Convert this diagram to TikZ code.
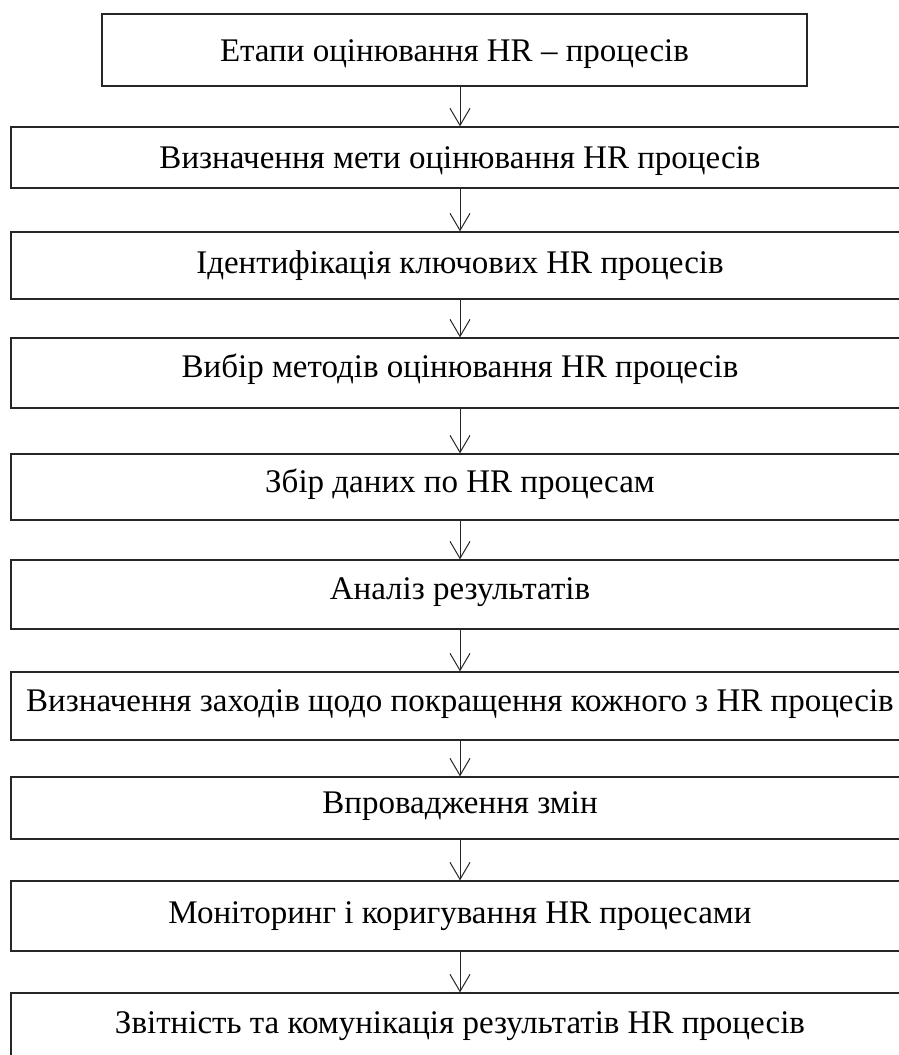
\documentclass[tikz,border=0pt]{standalone}
\usepackage{fontspec}
\setmainfont{Liberation Serif}
\usetikzlibrary{arrows.meta}
\tikzset{
  box/.style={draw=black!85, line width=1.3pt, rectangle, inner sep=0pt, fill=white},
  txt/.style={inner sep=0pt, anchor=base, font=\fontsize{33}{38}\selectfont},
  arr/.style={draw=black!85, line width=1pt, -{Straight Barb[length=17pt,width=20pt,line width=1pt]}}
}
\begin{document}
\begin{tikzpicture}[x=1pt,y=1pt]
\useasboundingbox (0,0) rectangle (899,-1055);
\clip (0,0) rectangle (899,-1055);
\fill[white] (0,0) rectangle (899,-1055);
% boxes
\node[box, minimum width=705pt, minimum height=72pt] (b1) at (454.5,-50) {};
\node[box, minimum width=898pt, minimum height=61pt] (b2) at (460,-157.5) {};
\node[box, minimum width=898pt, minimum height=67pt] (b3) at (460,-265.5) {};
\node[box, minimum width=898pt, minimum height=70pt] (b4) at (460,-373) {};
\node[box, minimum width=898pt, minimum height=66pt] (b5) at (460,-487) {};
\node[box, minimum width=898pt, minimum height=69pt] (b6) at (460,-594.5) {};
\node[box, minimum width=898pt, minimum height=68pt] (b7) at (460,-706) {};
\node[box, minimum width=898pt, minimum height=62pt] (b8) at (460,-808) {};
\node[box, minimum width=898pt, minimum height=70pt] (b9) at (460,-916) {};
\node[box, minimum width=898pt, minimum height=70pt] (b10) at (460,-1028) {};
% texts
\node[txt] (t1) at (454.5,-61) {Етапи оцінювання HR – процесів};
\node[txt] (t2) at (460,-168) {Визначення мети оцінювання HR процесів};
\node[txt] (t3) at (460,-273) {Ідентифікація ключових HR процесів};
\node[txt] (t4) at (460,-377) {Вибір методів оцінювання HR процесів};
\node[txt] (t5) at (460,-492) {Збір даних по HR процесам};
\node[txt] (t6) at (460,-599) {Аналіз результатів};
\node[txt] (t7) at (460,-711) {Визначення заходів щодо покращення кожного з HR процесів};
\node[txt] (t8) at (460,-813) {Впровадження змін};
\node[txt] (t9) at (460,-923) {Моніторинг і коригування HR процесами};
\node[txt] (t10) at (460,-1033) {Звітність та комунікація результатів HR процесів};
% arrows
\draw[arr] (b1.south -| b2.north) -- (b2.north);
\draw[arr] (b2.south) -- (b3.north);
\draw[arr] (b3.south) -- (b4.north);
\draw[arr] (b4.south) -- (b5.north);
\draw[arr] (b5.south) -- (b6.north);
\draw[arr] (b6.south) -- (b7.north);
\draw[arr] (b7.south) -- (b8.north);
\draw[arr] (b8.south) -- (b9.north);
\draw[arr] (b9.south) -- (b10.north);
\end{tikzpicture}
\end{document}
